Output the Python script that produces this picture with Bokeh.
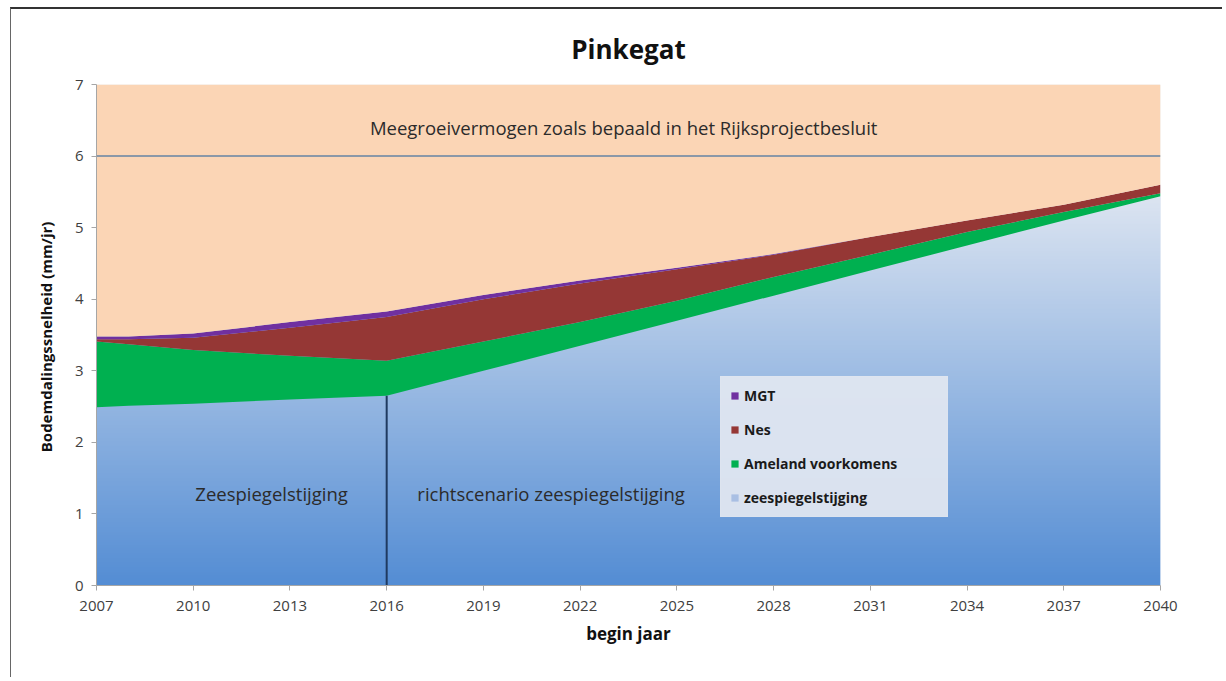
import numpy as np
from bokeh.plotting import figure
from bokeh.models import (ColumnDataSource, Legend, LegendItem, Label, Span,
                          FixedTicker, Range1d)
from bokeh.embed import file_html
from bokeh.resources import INLINE

# ---- data ----
years = [2007, 2008, 2010, 2013, 2016, 2019, 2022, 2025, 2028, 2031, 2034, 2037, 2040]
zeespiegelstijging = [2.49, 2.51, 2.54, 2.60, 2.65, 3.00, 3.35, 3.70, 4.05, 4.40, 4.75, 5.10, 5.44]
ameland = [0.92, 0.86, 0.75, 0.61, 0.49, 0.41, 0.33, 0.28, 0.26, 0.22, 0.19, 0.12, 0.04]
nes = [0.03, 0.07, 0.17, 0.39, 0.61, 0.59, 0.54, 0.44, 0.31, 0.25, 0.16, 0.10, 0.12]
mgt = [0.04, 0.04, 0.06, 0.08, 0.08, 0.06, 0.04, 0.02, 0.01, 0.0, 0.0, 0.0, 0.0]
meegroeivermogen = 6.0
x_ticks = list(range(2007, 2041, 3))
y_ticks = list(range(0, 8))
x_start, x_end = 2007, 2040
y_start, y_end = 0, 7

FONT = "Open Sans"

total = [a + b + c + d for a, b, c, d in zip(zeespiegelstijging, ameland, nes, mgt)]
src = ColumnDataSource(dict(year=years, zee=zeespiegelstijging, ameland=ameland,
                            nes=nes, mgt=mgt, total=total,
                            top=[y_end] * len(years)))

p = figure(width=1212, height=670, output_backend="svg", toolbar_location=None,
           x_range=Range1d(x_start, x_end), y_range=Range1d(y_start, y_end),
           min_border_left=85, min_border_right=63, min_border_top=75,
           min_border_bottom=94)
p.margin = (7, 0, 0, 10)
p.styles = {"border-top": "2px solid #333", "border-left": "1px solid #666"}

# sea-level area (light blue, used for the legend swatch), covered by a gradient
r_zee = p.varea(x="year", y1=0, y2="zee", source=src, fill_color="#a9bfe3")

ny = 300
frac = np.linspace(0, 1, ny)
c0 = np.array([84, 141, 212])
c1 = np.array([224, 231, 242])
cut = 5.6 / 7.0
img = np.zeros((ny, 2), dtype=np.uint32)
view = img.view(dtype=np.uint8).reshape((ny, 2, 4))
for i, f in enumerate(frac):
    t = min(f / cut, 1.0)
    c = c0 + (c1 - c0) * t
    view[i, :, 0] = int(c[0]); view[i, :, 1] = int(c[1]); view[i, :, 2] = int(c[2]); view[i, :, 3] = 255
p.image_rgba(image=[img], x=x_start, y=y_start, dw=x_end - x_start, dh=y_end - y_start)

# stacked bands
rs = p.varea_stack(stackers=["zee", "ameland", "nes", "mgt"], x="year",
                   color=["#a9bfe3", "#00b050", "#953735", "#7030a0"],
                   alpha=[0, 1, 1, 1], source=src)
r_am, r_nes, r_mgt = rs[1], rs[2], rs[3]
# peach area above
p.varea(x="year", y1="total", y2="top", source=src, fill_color="#fbd5b5")

# horizontal line at 6
p.add_layout(Span(location=meegroeivermogen, dimension="width",
                  line_color="#8a98a8", line_width=2))
# vertical line at 2016
p.segment(x0=[2016], y0=[0], x1=[2016], y1=[zeespiegelstijging[years.index(2016)]],
          line_color="#1f3a60", line_width=2)

LEG_BG = "#dfe6f0"
legend = Legend(items=[LegendItem(label="MGT", renderers=[r_mgt]),
                       LegendItem(label="Nes", renderers=[r_nes]),
                       LegendItem(label="Ameland voorkomens", renderers=[r_am]),
                       LegendItem(label="zeespiegelstijging", renderers=[r_zee])],
                location=(624, 68), padding=9, spacing=15,
                glyph_width=9, glyph_height=9, label_height=14, label_standoff=5,
                label_width=194,
                background_fill_color=LEG_BG, background_fill_alpha=0.95,
                border_line_color=LEG_BG, border_line_width=1,
                label_text_font=FONT, label_text_font_size="14px",
                label_text_color="#1a1a1a", label_text_font_style="bold")
p.add_layout(legend, "center")

# text labels
lab_kw = dict(text_font=FONT, text_font_size="18.5px", text_color="#2b2b2b",
              text_align="center", text_baseline="middle")
p.add_layout(Label(x=2023.35, y=6.40, text="Meegroeivermogen zoals bepaald in het Rijksprojectbesluit", **lab_kw))
p.add_layout(Label(x=2012.43, y=1.28, text="Zeespiegelstijging", **lab_kw))
p.add_layout(Label(x=2021.1, y=1.28, text="richtscenario zeespiegelstijging", **lab_kw))

# title
p.title.text = "Pinkegat"
p.title.align = "center"
p.title.text_font = FONT
p.title.text_font_size = "26px"
p.title.text_font_style = "bold"
p.title.text_color = "#111111"
p.title.standoff = 36

# axes
p.xgrid.visible = False
p.ygrid.visible = False
p.outline_line_color = None
p.xaxis.ticker = FixedTicker(ticks=x_ticks)
p.yaxis.ticker = FixedTicker(ticks=y_ticks)
for ax in (p.xaxis[0], p.yaxis[0]):
    ax.axis_line_color = "#a6a6a6"
    ax.major_tick_line_color = "#a6a6a6"
    ax.major_tick_out = 5
    ax.major_tick_in = 0
    ax.minor_tick_line_color = None
    ax.major_label_text_font = FONT
    ax.major_label_text_font_size = "15px"
    ax.major_label_text_color = "#404040"
    ax.axis_label_text_font = FONT
    ax.axis_label_text_font_style = "bold"
    ax.axis_label_text_color = "#111111"
p.xaxis.axis_label = "begin jaar"
p.yaxis.axis_label = "Bodemdalingssnelheid  (mm/jr)"
p.xaxis.axis_label_text_font_size = "17px"
p.yaxis.axis_label_text_font_size = "15px"
p.xaxis.major_label_standoff = 10
p.yaxis.major_label_standoff = 8
p.xaxis.axis_label_standoff = 8
p.yaxis.axis_label_standoff = 16

open("out.html", "w").write(file_html(p, INLINE))
